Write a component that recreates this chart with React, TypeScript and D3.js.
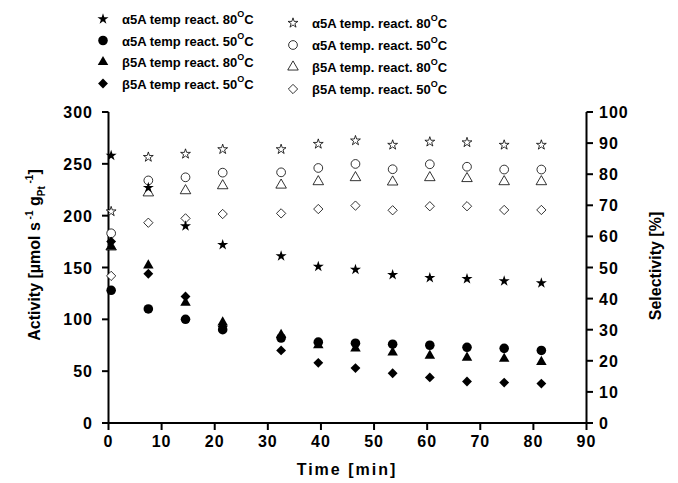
import React from "react";
import * as d3 from "d3";

const time = [0.5, 7.5, 14.5, 21.5, 32.5, 39.5, 46.5, 53.5, 60.5, 67.5, 74.5, 81.5];
const actA80 = [258, 227, 190, 172, 161, 151, 148, 143, 140, 139, 137, 135];
const actA50 = [128, 110, 100, 90, 82, 78, 77, 76, 75, 73, 72, 70];
const actB80 = [170, 152, 116, 97, 85, 75, 72, 68, 65, 63, 62, 59];
const actB50 = [175, 144, 122, 93, 70, 58, 53, 48, 44, 40, 39, 38];
const selA80 = [68, 85.5, 86.5, 88, 88, 89.7, 90.8, 89.4, 90.4, 90.2, 89.4, 89.4];
const selA50 = [61, 78, 79, 80.5, 80.6, 82, 83.3, 81.6, 83.2, 82.4, 81.5, 81.5];
const selB80 = [56.6, 74, 74.7, 76.3, 76.5, 77.6, 78.9, 77.5, 78.9, 78.6, 77.6, 77.6];
const selB50 = [47.3, 64.4, 65.8, 67.2, 67.4, 68.8, 69.9, 68.4, 69.7, 69.7, 68.5, 68.5];

const xTicks = [0, 10, 20, 30, 40, 50, 60, 70, 80, 90];
const yLeftTicks = [0, 50, 100, 150, 200, 250, 300];
const yRightTicks = [0, 10, 20, 30, 40, 50, 60, 70, 80, 90, 100];

const leftLegend = [
  { label: "α5A temp react. 80", shape: "star", open: false },
  { label: "α5A temp react. 50", shape: "circle", open: false },
  { label: "β5A temp react. 80", shape: "triangle", open: false },
  { label: "β5A temp react. 50", shape: "diamond", open: false },
];
const rightLegend = [
  { label: "α5A temp. react. 80", shape: "star", open: true },
  { label: "α5A temp. react. 50", shape: "circle", open: true },
  { label: "β5A temp. react. 80", shape: "triangle", open: true },
  { label: "β5A temp. react. 50", shape: "diamond", open: true },
];

const FONT = "'Liberation Sans', Arial, sans-serif";

const symType: Record<string, any> = {
  star: d3.symbolStar,
  circle: d3.symbolCircle,
  triangle: d3.symbolTriangle,
  diamond: (d3 as any).symbolDiamond2 || d3.symbolDiamond,
};
const symSize: Record<string, number> = { star: 38, circle: 72, triangle: 48, diamond: 62 };
const symSizeOpen: Record<string, number> = { star: 30, circle: 60, triangle: 48, diamond: 55 };

function sym(shape: string, open: boolean) {
  return d3.symbol().type(symType[shape]).size(open ? symSizeOpen[shape] : symSize[shape])() as string;
}

export default function App() {
  const W = 678, H = 483;
  const x = d3.scaleLinear().domain([0, 90]).range([108.5, 586.5]);
  const yL = d3.scaleLinear().domain([0, 300]).range([423, 112]);
  const yR = d3.scaleLinear().domain([0, 100]).range([423, 112]);

  const series = [
    { data: selB50, y: yR, shape: "diamond", open: true },
    { data: selB80, y: yR, shape: "triangle", open: true },
    { data: selA50, y: yR, shape: "circle", open: true },
    { data: selA80, y: yR, shape: "star", open: true },
    { data: actB50, y: yL, shape: "diamond", open: false },
    { data: actB80, y: yL, shape: "triangle", open: false },
    { data: actA50, y: yL, shape: "circle", open: false },
    { data: actA80, y: yL, shape: "star", open: false },
  ];

  const tickStyle = { fontFamily: FONT, fontWeight: 700, fontSize: 16, letterSpacing: 1 } as const;
  const legStyle = { fontFamily: FONT, fontWeight: 700, fontSize: 13 } as const;

  return (
    <svg width={W} height={H} style={{ position: "absolute", left: 0, top: 0, background: "#fff" }}>
      <rect width={W} height={H} fill="#fff" />
      {/* Legends */}
      {leftLegend.map((d, i) => (
        <g key={"ll" + i}>
          <path d={sym(d.shape, d.open)} transform={`translate(103,${19 + i * 21.5})`} fill={d.open ? "#fff" : "#000"} stroke="#000" strokeWidth={d.open ? 0.8 : 0} />
          <text x={122} y={24 + i * 21.5} style={legStyle} fill="#000">
            {d.label}
            <tspan dy={-7} fontSize={9}>O</tspan>
            <tspan dy={7}>C</tspan>
          </text>
        </g>
      ))}
      {rightLegend.map((d, i) => (
        <g key={"rl" + i}>
          <path d={sym(d.shape, d.open)} transform={`translate(293,${23 + i * 22})`} fill={d.open ? "#fff" : "#000"} stroke="#000" strokeWidth={0.8} />
          <text x={312} y={28 + i * 22} style={legStyle} fill="#000">
            {d.label}
            <tspan dy={-7} fontSize={9}>O</tspan>
            <tspan dy={7}>C</tspan>
          </text>
        </g>
      ))}

      {/* Axes lines */}
      <line x1={108.5} x2={108.5} y1={112} y2={424} stroke="#000" strokeWidth={2} />
      <line x1={586.5} x2={586.5} y1={112} y2={424} stroke="#000" strokeWidth={2} />
      <line x1={107.5} x2={587.5} y1={423} y2={423} stroke="#000" strokeWidth={2} />

      {/* x ticks */}
      {xTicks.map((t) => (
        <g key={"x" + t}>
          <line x1={x(t)} x2={x(t)} y1={423} y2={430} stroke="#000" strokeWidth={2} />
          <text x={x(t)} y={447} textAnchor="middle" style={tickStyle}>{t}</text>
        </g>
      ))}
      {/* left ticks */}
      {yLeftTicks.map((t) => (
        <g key={"yl" + t}>
          <line x1={102} x2={108.5} y1={yL(t)} y2={yL(t)} stroke="#000" strokeWidth={2} />
          <text x={93} y={yL(t) + 6} textAnchor="end" style={tickStyle}>{t}</text>
        </g>
      ))}
      {/* right ticks */}
      {yRightTicks.map((t) => (
        <g key={"yr" + t}>
          <line x1={586.5} x2={593} y1={yR(t)} y2={yR(t)} stroke="#000" strokeWidth={2} />
          <text x={599} y={yR(t) + 6} textAnchor="start" style={tickStyle}>{t}</text>
        </g>
      ))}

      {/* axis titles */}
      <text x={347} y={475} textAnchor="middle" style={{ fontFamily: FONT, fontWeight: 700, fontSize: 16, letterSpacing: 2 }}>Time [min]</text>
      <text transform="translate(40,255) rotate(-90)" textAnchor="middle" style={{ fontFamily: FONT, fontWeight: 700, fontSize: 16 }}>
        Activity [µmol s
        <tspan dy={-7} fontSize={10}> -1</tspan>
        <tspan dy={7}> g</tspan>
        <tspan dy={5} fontSize={10}>Pt</tspan>
        <tspan dy={-12} fontSize={10}> -1</tspan>
        <tspan dy={7}>]</tspan>
      </text>
      <text transform="translate(661,266) rotate(-90)" textAnchor="middle" style={{ fontFamily: FONT, fontWeight: 700, fontSize: 16 }}>Selectivity [%]</text>

      {/* data */}
      {series.map((s, si) => (
        <g key={"s" + si}>
          {s.data.map((v, i) => (
            <path key={i} d={sym(s.shape, s.open)} transform={`translate(${x(time[i])},${s.y(v)})`} fill={s.open ? "#fff" : "#000"} stroke="#000" strokeWidth={s.open ? 0.8 : 0} />
          ))}
        </g>
      ))}
    </svg>
  );
}
